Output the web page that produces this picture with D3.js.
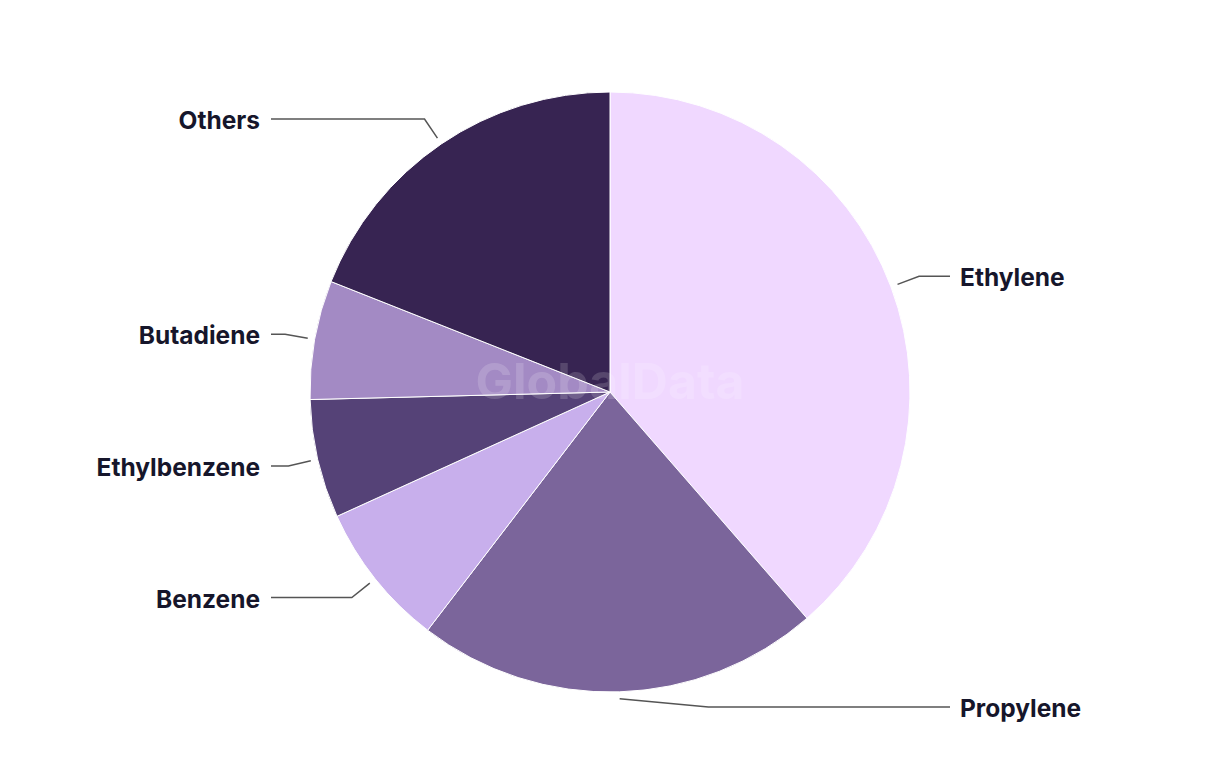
<!DOCTYPE html>
<html>
<head>
<meta charset="utf-8">
<script src="https://cdn.jsdelivr.net/npm/d3@7"></script>
<style>
  body { margin: 0; background: #fff; }
  text { font-family: Inter, "Noto Sans", sans-serif; }
</style>
</head>
<body>
<script>
var w = 1220;
var h = 764;

// data (share, %)
var categories = ["Ethylene", "Propylene", "Benzene", "Ethylbenzene", "Butadiene", "Others"];
var shares = [38.6, 21.8, 7.8, 6.4, 6.4, 19.0];
var colors = ["#f0d8ff", "#7b659b", "#c8afec", "#554277", "#a38ac4", "#372452"];

var cx = 610, cy = 392, r = 300;

var data = categories.map(function(c, i) {
  return { name: c, value: shares[i], color: colors[i] };
});

var pie = d3.pie().sort(null).value(function(d) { return d.value; });
var arc = d3.arc().innerRadius(0).outerRadius(r);

var svg = d3.select("body")
  .append("svg")
  .attr("width", w)
  .attr("height", h);

svg.append("rect").attr("width", w).attr("height", h).attr("fill", "#fff");

var g = svg.append("g").attr("transform", "translate(" + cx + "," + cy + ")");

var arcs = pie(data);

g.selectAll("path.slice")
  .data(arcs)
  .enter()
  .append("path")
  .attr("class", "slice")
  .attr("d", arc)
  .attr("fill", function(d) { return d.data.color; })
  .attr("stroke", "#fff")
  .attr("stroke-width", 1);

// watermark
g.append("text")
  .attr("x", 0)
  .attr("y", 7)
  .attr("text-anchor", "middle")
  .attr("font-size", 50)
  .attr("font-weight", 700)
  .attr("fill", "#fff")
  .attr("fill-opacity", 0.16)
  .text("GlobalData");

// labels and connectors
var labelR = 330, startR = 307, colGap = 350;
var yMin = 20 - cy, yMax = 707 - cy;

arcs.forEach(function(d) {
  var a = (d.startAngle + d.endAngle) / 2;
  var sx = Math.sin(a), sy = -Math.cos(a);
  var right = sx >= 0;
  var ly = Math.max(yMin, Math.min(yMax, labelR * sy));
  var kx = Math.sqrt(Math.max(0, labelR * labelR - ly * ly)) * (right ? 1 : -1);
  var ex = right ? colGap - 10 : -colGap + 11;

  var line = d3.line();
  g.append("path")
    .attr("d", line([[startR * sx, startR * sy], [kx, ly], [ex, ly]]))
    .attr("fill", "none")
    .attr("stroke", "#555")
    .attr("stroke-width", 1.5);

  g.append("text")
    .attr("x", right ? colGap : -colGap)
    .attr("y", ly)
    .attr("dy", "0.41em")
    .attr("text-anchor", right ? "start" : "end")
    .attr("font-size", 24.5)
    .attr("font-weight", 700)
    .attr("fill", "#16162b")
    .text(d.data.name);
});
</script>
</body>
</html>
